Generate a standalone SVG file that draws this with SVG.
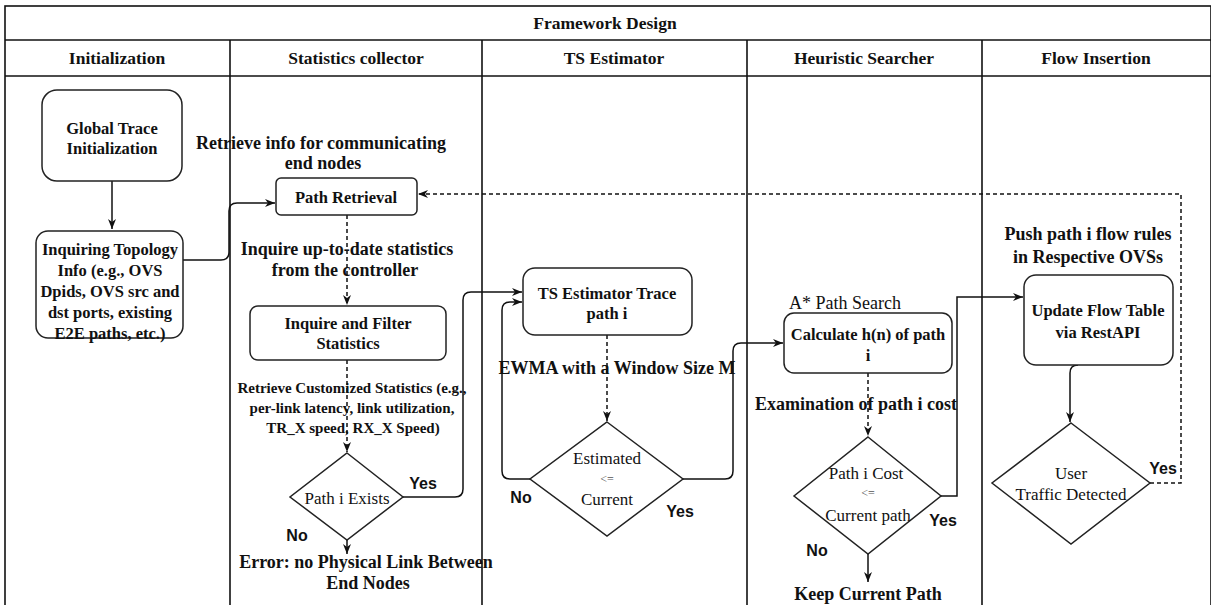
<svg xmlns="http://www.w3.org/2000/svg" width="1211" height="605" viewBox="0 0 1211 605">
<style>
text{font-family:"Liberation Serif","Times New Roman",serif;text-anchor:middle;dominant-baseline:central;fill:#111}
.hd{font-size:17.5px;font-weight:bold}
.nd{font-size:16.5px;font-weight:bold}
.lb{font-size:18px;font-weight:bold}
.lbs{font-size:15px;font-weight:bold}
.dm{font-size:17px}
.le{font-size:12px;fill:#555}
.as{font-size:18px}
.yn{font-family:"Liberation Sans",Arial,sans-serif;font-size:16px;font-weight:bold}
.lane{fill:none;stroke:#111;stroke-width:1.6}
.box{fill:#fff;stroke:#222;stroke-width:1.5}
.c{fill:none;stroke:#111;stroke-width:1.5}
.d{stroke-dasharray:4 3}
</style>
<defs>
<marker id="ah" markerUnits="userSpaceOnUse" markerWidth="12" markerHeight="10" refX="10" refY="4" orient="auto">
<path d="M0,0 L10,4 L0,8 L3,4 z" fill="#111"/>
</marker>
</defs>
<g id="lanes">
<rect class="lane" x="5" y="6" width="1206" height="620"/>
<line class="lane" x1="5" y1="40" x2="1211" y2="40"/>
<line class="lane" x1="5" y1="76" x2="1211" y2="76"/>
<line class="lane" x1="230" y1="40" x2="230" y2="605"/>
<line class="lane" x1="482" y1="40" x2="482" y2="605"/>
<line class="lane" x1="747" y1="40" x2="747" y2="605"/>
<line class="lane" x1="982" y1="40" x2="982" y2="605"/>
<text class="hd" x="605" y="23">Framework Design</text>
<text class="hd" x="117" y="58">Initialization</text>
<text class="hd" x="356" y="58">Statistics collector</text>
<text class="hd" x="614" y="58">TS Estimator</text>
<text class="hd" x="864" y="58">Heuristic Searcher</text>
<text class="hd" x="1096" y="58">Flow Insertion</text>
</g>
<g id="connectors">
<path class="c" d="M112,181 L112,229" marker-end="url(#ah)"/>
<path class="c" d="M183,260 L221,260 Q229,260 229,252 L229,211 Q229,203 237,203 L275,203" marker-end="url(#ah)"/>
<path class="c d" d="M347,215 L347,305" marker-end="url(#ah)"/>
<path class="c d" d="M347,360 L347,452" marker-end="url(#ah)"/>
<path class="c" d="M347,540 L347,554" marker-end="url(#ah)"/>
<path class="c" d="M403,497 L455,497 Q463,497 463,489 L463,300 Q463,292 471,292 L522,292" marker-end="url(#ah)"/>
<path class="c d" d="M607,335 L607,421" marker-end="url(#ah)"/>
<path class="c" d="M530,479 L510,479 Q502,479 502,471 L502,310 Q502,302 510,302 L522,302" marker-end="url(#ah)"/>
<path class="c" d="M683,479 L725,479 Q733,479 733,471 L733,351 Q733,343 741,343 L783,343" marker-end="url(#ah)"/>
<path class="c d" d="M868,373 L868,436" marker-end="url(#ah)"/>
<path class="c" d="M868,554 L868,582" marker-end="url(#ah)"/>
<path class="c" d="M941,496 L957,496 L957,297 L1023,297" marker-end="url(#ah)"/>
<path class="c" d="M1078,365 Q1070,365 1070,373 L1070,422" marker-end="url(#ah)"/>
<path class="c d" d="M1150,483 L1181,483 L1181,194 L418,194" marker-end="url(#ah)"/>
<text class="lb" x="321" y="143">Retrieve info for communicating</text>
<text class="lb" x="323" y="163">end nodes</text>
<text class="lb" x="347" y="249">Inquire up-to-date statistics</text>
<text class="lb" x="345" y="270">from the controller</text>
<text class="lbs" x="352" y="388">Retrieve Customized Statistics (e.g.,</text>
<text class="lbs" x="352" y="408">per-link latency, link utilization,</text>
<text class="lbs" x="353" y="428">TR_X speed, RX_X Speed)</text>
<text class="yn" x="423" y="483">Yes</text>
<text class="yn" x="297" y="535">No</text>
<text class="lb" x="366" y="562">Error: no Physical Link Between</text>
<text class="lb" x="368" y="583">End Nodes</text>
<text class="lb" x="617" y="368">EWMA with a Window Size M</text>
<text class="yn" x="521" y="497">No</text>
<text class="yn" x="680" y="511">Yes</text>
<text class="lb" x="856" y="404">Examination of path i cost</text>
<text class="yn" x="943" y="520">Yes</text>
<text class="yn" x="817" y="550">No</text>
<text class="lb" x="868" y="594">Keep Current Path</text>
<text class="lb" x="1088" y="234">Push path i flow rules</text>
<text class="lb" x="1088" y="257">in Respective OVSs</text>
<text class="yn" x="1163" y="468">Yes</text>
</g>
<g id="global-trace">
<rect class="box" x="42" y="90" width="140" height="91" rx="15"/>
<text class="nd" x="112" y="128">Global Trace</text>
<text class="nd" x="112" y="148">Initialization</text>
</g>
<g id="inquiring-topology">
<rect class="box" x="36" y="231" width="147" height="107" rx="12"/>
<text class="nd" x="110" y="249">Inquiring Topology</text>
<text class="nd" x="110" y="270">Info (e.g., OVS</text>
<text class="nd" x="110" y="291">Dpids, OVS src and</text>
<text class="nd" x="110" y="312">dst ports, existing</text>
<text class="nd" x="110" y="333">E2E paths, etc.)</text>
</g>
<g id="path-retrieval">
<rect class="box" x="276" y="178" width="141" height="37" rx="5"/>
<text class="nd" x="346" y="197">Path Retrieval</text>
</g>
<g id="inquire-filter">
<rect class="box" x="250" y="306" width="196" height="54" rx="8"/>
<text class="nd" x="348" y="323">Inquire and Filter</text>
<text class="nd" x="348" y="343">Statistics</text>
</g>
<g id="path-exists">
<polygon class="box" points="347,453 403,497 347,540 290,497"/>
<text class="dm" x="347" y="498">Path i Exists</text>
</g>
<g id="ts-trace">
<rect class="box" x="523" y="268" width="169" height="67" rx="12"/>
<text class="nd" x="607" y="293">TS Estimator Trace</text>
<text class="nd" x="607" y="313">path i</text>
</g>
<g id="estimated">
<polygon class="box" points="607,422 683,479 607,536 530,479"/>
<text class="dm" x="607" y="458">Estimated</text>
<text class="le" x="607" y="479">&lt;=</text>
<text class="dm" x="607" y="499">Current</text>
</g>
<g id="a-star">
<text class="as" x="845" y="303">A* Path Search</text>
<rect class="box" x="784" y="313" width="168" height="60" rx="10"/>
<text class="nd" x="868" y="334">Calculate h(n) of path</text>
<text class="nd" x="868" y="355">i</text>
</g>
<g id="path-cost">
<polygon class="box" points="868,437 941,496 868,554 794,496"/>
<text class="dm" x="866" y="473">Path i Cost</text>
<text class="le" x="868" y="493">&lt;=</text>
<text class="dm" x="868" y="515">Current path</text>
</g>
<g id="flow-table">
<rect class="box" x="1024" y="275" width="149" height="90" rx="12"/>
<text class="nd" x="1098" y="310">Update Flow Table</text>
<text class="nd" x="1098" y="332">via RestAPI</text>
</g>
<g id="user-traffic">
<polygon class="box" points="1071,423 1150,483 1071,544 992,483"/>
<text class="dm" x="1071" y="473">User</text>
<text class="dm" x="1071" y="494">Traffic Detected</text>
</g>
</svg>
